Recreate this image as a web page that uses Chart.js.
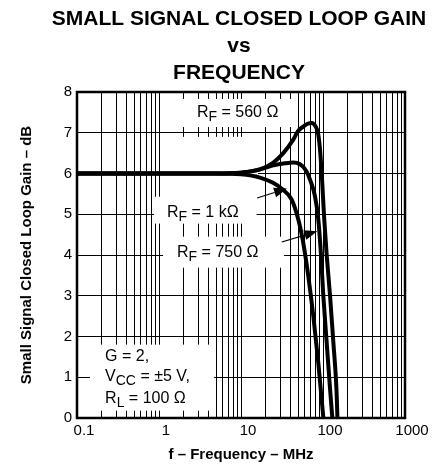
<!DOCTYPE html>
<html>
<head>
<meta charset="utf-8">
<script src="https://cdn.jsdelivr.net/npm/chart.js@4.4.0/dist/chart.umd.min.js"></script>
<style>
html,body{margin:0;padding:0;background:#fff;}
canvas{display:block;}
</style>
</head>
<body>
<canvas id="c" width="436" height="474"></canvas>
<script>
// ---- Data ----
const freqRF560 = [0.1, 1, 5, 10, 17, 24.8, 32.8, 43.4, 50, 57.5, 65, 72.8, 81.5, 87.7, 92.7, 98, 103, 111, 122, 134, 146, 150];
const gainRF560 = [6.0, 6.0, 6.0, 6.02, 6.1, 6.27, 6.5, 6.83, 7.05, 7.15, 7.22, 7.24, 7.15, 6.95, 6.5, 5.76, 4.95, 3.99, 2.99, 1.84, 0.7, 0];

const freqRF750 = [0.1, 1, 5, 10, 17, 24.8, 34.4, 43.4, 52, 57.5, 63.3, 69.4, 79.9, 87.7, 94.6, 101, 111, 122, 130];
const gainRF750 = [6.0, 6.0, 6.0, 6.02, 6.1, 6.2, 6.25, 6.27, 6.23, 6.16, 6.04, 5.85, 5.44, 4.87, 3.99, 2.99, 1.84, 0.7, 0];

const freqRF1k = [0.1, 1, 5, 10, 17, 24.6, 32.5, 41.5, 50, 57.5, 66.2, 76.2, 87.7, 101];
const gainRF1k = [6.0, 6.0, 6.0, 5.98, 5.9, 5.77, 5.6, 5.36, 4.87, 4.29, 3.48, 2.5, 1.35, 0];

const seriesNames = ['RF = 560 Ω', 'RF = 750 Ω', 'RF = 1 kΩ'];

// x grid positions (log decades 0.1 … 1000) and labelled ticks
const xGridValues = [0.1,0.2,0.3,0.4,0.5,0.6,0.7,0.8,0.9,
                     1,2,3,4,5,6,7,8,9,
                     10,20,30,40,50,60,70,80,90,
                     100,200,300,400,500,600,700,800,900,1000];
const xTickValues = [0.1, 1, 10, 100, 1000];
const xTickLabels = ['0.1', '1', '10', '100', '1000'];
const yTickLabels = ['0','1','2','3','4','5','6','7','8'];

const titleLines = ['SMALL SIGNAL CLOSED LOOP GAIN', 'vs', 'FREQUENCY'];
const yAxisTitle = 'Small Signal Closed Loop Gain – dB';
const xAxisTitle = 'f – Frequency – MHz';

// ---- Annotations (in data units, converted through the scales) ----
const labelBoxes = [
  {f0: 1.36, f1: 45.6, g0: 7.14, g1: 7.83},
  {f0: 1.09, f1: 16.1, g0: 5.40, g1: 6.90},
  {f0: 0.87, f1: 15.5, g0: 4.77, g1: 5.43},
  {f0: 1.12, f1: 33.5, g0: 3.69, g1: 4.45},
  {f0: 0.144, f1: 4.7, g0: 0.18, g1: 1.80}
];
const labelTexts = [
  {f: 2.9,  g: 7.38, parts: [['R'], ['F', 1], [' = 560 Ω']]},
  {f: 1.25, g: 4.94, parts: [['R'], ['F', 1], [' = 1 kΩ']]},
  {f: 1.66, g: 3.96, parts: [['R'], ['F', 1], [' = 750 Ω']]},
  {f: 0.22, g: 1.39, parts: [['G = 2,']]},
  {f: 0.22, g: 0.90, parts: [['V'], ['CC', 1], [' = ±5 V,']]},
  {f: 0.22, g: 0.37, parts: [['R'], ['L', 1], [' = 100 Ω']]}
];
const labelArrows = [
  {from: [15.7, 5.40], to: [36.4, 5.63]},
  {from: [31.4, 4.32], to: [85.2, 4.58]}
];

const FONT = "'Liberation Sans', Arial, Helvetica, sans-serif";
Chart.defaults.font.family = FONT;
Chart.defaults.color = '#000';

function toXY(fs, gs) { return fs.map((f, i) => ({x: f, y: gs[i]})); }

const annotPlugin = {
  id: 'annot',
  beforeDatasetsDraw(chart) {
    const {ctx} = chart;
    const xs = chart.scales.x, ys = chart.scales.y;
    ctx.save();
    ctx.fillStyle = '#fff';
    for (const b of labelBoxes) {
      const x0 = xs.getPixelForValue(b.f0), x1 = xs.getPixelForValue(b.f1);
      const y0 = ys.getPixelForValue(b.g1), y1 = ys.getPixelForValue(b.g0);
      ctx.fillRect(x0, y0, x1 - x0, y1 - y0);
    }
    ctx.fillStyle = '#000';
    ctx.textBaseline = 'alphabetic';
    ctx.textAlign = 'left';
    for (const t of labelTexts) {
      let px = xs.getPixelForValue(t.f);
      const py = ys.getPixelForValue(t.g);
      for (const [s, sub] of t.parts) {
        ctx.font = (sub ? '14px ' : '16px ') + FONT;
        ctx.fillText(s, px, py + (sub ? 4 : 0));
        px += ctx.measureText(s).width;
      }
    }
    ctx.strokeStyle = '#000';
    ctx.lineWidth = 1.2;
    for (const a of labelArrows) {
      const x0 = xs.getPixelForValue(a.from[0]), y0 = ys.getPixelForValue(a.from[1]);
      const x1 = xs.getPixelForValue(a.to[0]), y1 = ys.getPixelForValue(a.to[1]);
      const ang = Math.atan2(y1 - y0, x1 - x0);
      const len = 13, hw = 5;
      const bx = x1 - len * Math.cos(ang), by = y1 - len * Math.sin(ang);
      ctx.beginPath();
      ctx.moveTo(x0, y0);
      ctx.lineTo(bx, by);
      ctx.stroke();
      ctx.beginPath();
      ctx.moveTo(x1, y1);
      ctx.lineTo(bx + hw * Math.sin(ang), by - hw * Math.cos(ang));
      ctx.lineTo(bx - hw * Math.sin(ang), by + hw * Math.cos(ang));
      ctx.closePath();
      ctx.fill();
    }
    ctx.restore();
  },
  afterDatasetsDraw(chart) {
    const {ctx, chartArea: a} = chart;
    ctx.save();
    ctx.strokeStyle = '#000';
    ctx.lineWidth = 2.5;
    ctx.strokeRect(a.left, a.top, a.right - a.left, a.bottom - a.top);
    ctx.restore();
  },
  afterDraw(chart) {
    const {ctx, chartArea: a} = chart;
    ctx.save();
    ctx.fillStyle = '#000';
    ctx.font = 'bold 21px ' + FONT;
    ctx.textAlign = 'center';
    ctx.textBaseline = 'alphabetic';
    const cx = (a.left + a.right) / 2 - 2;
    titleLines.forEach((line, i) => ctx.fillText(line, cx, 25 + i * 27));
    ctx.restore();
  }
};

const lineStyle = {
  borderColor: '#000',
  backgroundColor: '#000',
  borderWidth: 4,
  pointRadius: 0,
  fill: false,
  cubicInterpolationMode: 'monotone'
};

new Chart(document.getElementById('c'), {
  type: 'line',
  data: {
    datasets: [
      Object.assign({label: seriesNames[0], data: toXY(freqRF560, gainRF560)}, lineStyle),
      Object.assign({label: seriesNames[1], data: toXY(freqRF750, gainRF750)}, lineStyle),
      Object.assign({label: seriesNames[2], data: toXY(freqRF1k, gainRF1k)}, lineStyle)
    ]
  },
  options: {
    responsive: false,
    animation: false,
    devicePixelRatio: 1,
    layout: {padding: {top: 92, right: 31, bottom: 0, left: 0}},
    plugins: {legend: {display: false}, tooltip: {enabled: false}, title: {display: false}},
    scales: {
      x: {
        type: 'logarithmic',
        min: 0.1,
        max: 1000,
        afterBuildTicks(scale) { scale.ticks = xGridValues.map(v => ({value: v, major: xTickValues.includes(v)})); },
        afterFit(scale) { scale.height = 56; },
        ticks: {
          autoSkip: false,
          maxRotation: 0,
          minRotation: 0,
          padding: 4,
          labelOffset: 7,
          color: '#000',
          font: {size: 15},
          callback(value) {
            const i = xTickValues.indexOf(value);
            return i >= 0 ? xTickLabels[i] : '';
          }
        },
        grid: {color: '#000', lineWidth: 1, drawTicks: false},
        border: {display: false},
        title: {display: true, text: xAxisTitle, color: '#000', font: {size: 15, weight: 'bold'}, padding: {top: 0, bottom: 10}}
      },
      y: {
        type: 'linear',
        min: 0,
        max: 8,
        afterFit(scale) { scale.width = 77; },
        ticks: {
          stepSize: 1,
          padding: 5,
          color: '#000',
          font: {size: 15},
          callback(value) { return yTickLabels[value]; }
        },
        grid: {color: '#000', lineWidth: 1, drawTicks: false},
        border: {display: false},
        title: {display: true, text: yAxisTitle, color: '#000', font: {size: 15, weight: 'bold'}, padding: {top: 18, bottom: 0}}
      }
    }
  },
  plugins: [annotPlugin]
});
</script>
</body>
</html>
